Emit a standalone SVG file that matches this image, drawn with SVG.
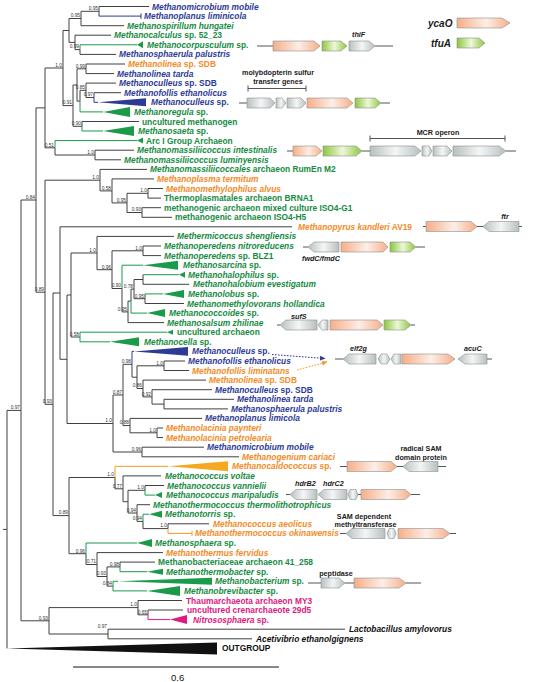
<svg xmlns="http://www.w3.org/2000/svg" width="538" height="682" viewBox="0 0 538 682">
<defs>
<style>
.t{font-family:"Liberation Sans",Arial,Helvetica,sans-serif;font-size:8.4px;font-weight:700;font-style:italic}
.n{font-style:normal}
.bl{fill:#2d3b96}.gr{fill:#168c43}.or{fill:#f28c28}.mg{fill:#e0187f}.bk{fill:#111}
.b{font-family:"Liberation Sans",Arial,sans-serif;font-size:4.8px;fill:#333;text-anchor:end}
.e{fill:none;stroke:#404040;stroke-width:1}
.eg{fill:none;stroke:#1b9a4a;stroke-width:1}
.eb{fill:none;stroke:#2d3b96;stroke-width:1}
.eo{fill:none;stroke:#f39a2a;stroke-width:1}
.em{fill:none;stroke:#e0187f;stroke-width:1}
.tg{fill:#1b9a4a}.tb{fill:#2d3b96}.to{fill:#f7a823}.tm{fill:#e0187f}.tk{fill:#111}
.gl{fill:none;stroke:#555;stroke-width:1}
.ga,.gp,.gg{stroke:#8b9090;stroke-width:.6}
.ga{fill:url(#ga)}.gp{fill:url(#gp)}.gg{fill:url(#gg)}
.gt{font-family:"Liberation Sans",Arial,sans-serif;font-size:7.2px;font-weight:700;fill:#1a1a1a}
.gi{font-style:italic}
.lg{font-family:"Liberation Sans",Arial,sans-serif;font-size:10px;font-weight:700;font-style:italic;fill:#1a1a1a}
</style>
<linearGradient id="gp" x1="0" x2="1" y1="0" y2="0"><stop offset="0" stop-color="#f6ae88"/><stop offset=".55" stop-color="#fdeee6"/><stop offset="1" stop-color="#f6ae88"/></linearGradient>
<linearGradient id="gg" x1="0" x2="1" y1="0" y2="0"><stop offset="0" stop-color="#8cc63f"/><stop offset=".5" stop-color="#eef7d9"/><stop offset="1" stop-color="#8cc63f"/></linearGradient>
<linearGradient id="ga" x1="0" x2="1" y1="0" y2="0"><stop offset="0" stop-color="#b8bfbf"/><stop offset=".5" stop-color="#f4f6f6"/><stop offset="1" stop-color="#b8bfbf"/></linearGradient>
<marker id="mb" markerWidth="6" markerHeight="6" refX="5" refY="3" orient="auto" markerUnits="userSpaceOnUse"><path d="M0,0.5 L5.5,3 L0,5.5 z" fill="#2d3b96"/></marker>
<marker id="mo" markerWidth="6" markerHeight="6" refX="5" refY="3" orient="auto" markerUnits="userSpaceOnUse"><path d="M0,0.5 L5.5,3 L0,5.5 z" fill="#f39a2a"/></marker>
</defs>
<rect width="538" height="682" fill="#fff"/>

<g id="connectors">
<path class="e" d="M3 529.4H7 M7 410.4V648.4 M7 410.4H21
M21 200V620.8 M21 200H36 M21 620.8H49
M36 107.9V292.2 M36 107.9H45 M36 292.2H45
M45 68V147.8 M45 68H63 M45 147.8H55
M63 30.5V105.6 M63 30.5H69 M63 105.6H73
M69 18.5V42.4 M69 18.5H81 M69 42.4H75
M81 11.3V25.7 M81 11.3H99 M81 25.7H124
M99 6.5V16.1 M99 6.5H149
M75 35.2V49.6 M75 35.2H111 M75 49.6H80
M80 49.6V54.4H116
M73 85V126.3 M73 85H77 M73 126.3H82
M77 68.8V101.1 M77 68.8H86 M77 101.1H80
M86 64V73.6 M86 64H125 M86 73.6H114
M80 90.3V101.1 M80 90.3H86
M86 83.1V97.5 M86 83.1H116 M86 97.5H94
M94 92.7V97.5 M94 92.7H121
M82 121.5V126.3 M82 121.5H139
M55 147.8V155H95
M95 150.2V159.8 M95 150.2H134 M95 159.8H121
M45 180.2V404.3 M45 180.2H100 M45 404.3H53
M100 169.4V190.9 M100 169.4H147 M100 190.9H112
M112 178.9V202.9 M112 178.9H154 M112 202.9H127
M127 193.3V212.5 M127 193.3H148 M127 212.5H142
M148 188.5V198.1 M148 188.5H163 M148 198.1H161
M142 207.7V217.3 M142 207.7H161 M142 217.3H172
M53 293V515.6 M53 293H60 M53 515.6H69
M60 226.8V359.3 M60 226.8H292 M60 359.3H67
M67 295V423.5 M67 295H71 M67 423.5H113
M71 253V337 M71 253H97 M71 337H80
M97 236.4V269.7 M97 236.4H174 M97 269.7H112
M112 250.8V288.5 M112 250.8H143 M112 288.5H122
M143 246V255.6 M143 246H161 M143 255.6H161
M122 288.5V311.9H128
M128 301.1V322.6 M128 301.1H131 M128 322.6H164
M131 289.1V301.1 M131 289.1H134
M134 279.5V298.7 M134 279.5H143 M134 298.7H145
M143 274.7V284.3 M143 284.3H189
M145 293.9V303.5 M145 303.5H184
M113 395V452 M113 395H123 M113 452H142
M123 364.3V425.6 M123 364.3H132 M123 425.6H130
M132 364.3V377.2H137
M137 365.8V388.5 M137 365.8H164 M137 388.5H143
M164 361V370.5 M164 361H185 M164 370.5H189
M143 380.1V396.9 M143 380.1H206 M143 396.9H152
M152 389.7V404.1 M152 389.7H212 M152 404.1H164
M164 399.3V408.9 M164 399.3H234 M164 408.9H228
M130 418.4V432.8 M130 418.4H202 M130 432.8H157
M157 428V437.6 M157 428H163 M157 437.6H163
M142 447.2V456.8 M142 447.2H204 M142 456.8H239
M69 477.5V553.7 M69 477.5H115 M69 553.7H86
M115 477.5V488.8H123
M123 475.9V501.7 M123 475.9H161 M123 501.7H128
M128 490.3V513 M128 490.3H145 M128 513H137
M145 485.5V490.3 M145 485.5H164
M137 504.7V521.4 M137 504.7H150 M137 521.4H143
M143 521.4V528.6H168
M168 523.8V528.6 M168 523.8H209
M86 553.7V564.5H97
M97 552.6V576.5 M97 552.6H163 M97 576.5H107
M107 566.9V586.1 M107 566.9H120 M107 586.1H113
M120 562.1V566.9 M120 562.1H155
M49 607.6V634 M49 607.6H138 M49 634H108
M138 600.5V614.8 M138 600.5H182 M138 614.8H148
M148 610V614.8 M148 610H183
M108 629.2V638.8 M108 629.2H345 M108 638.8H252"/>
<path class="eg" d="M80 49.6V44.8H137 M80 101.1V111.9H103 M82 126.3V131H103 M55 147.8V140.6H137
M122 288.5V265.2H143 M143 274.7H179 M131 301.1V313.1H147 M145 293.9H163
M80 332.2V341.8 M80 332.2H167 M80 341.8H110
M145 490.3V495.1H155 M143 521.4V514.2H149 M86 553.7V543H137 M120 566.9V571.7H147
M113 581.3V590.9 M113 581.3H118 M113 590.9H147"/>
<path class="eb" d="M99 16.1H141 M141 13.4V18.8 M94 97.5V102.3H98 M132 364.3V351.4H134"/>
<path class="eo" d="M115 477.5V466.3H168 M168 528.6V533.4H192 M192 530.9V535.9"/>
<path class="em" d="M148 614.8V619.6H170"/>
<path d="M272 354.5L325 358.5" fill="none" stroke="#2d3b96" stroke-width="1" stroke-dasharray="1.6 1.4" marker-end="url(#mb)"/>
<path d="M297 370L327 362" fill="none" stroke="#f39a2a" stroke-width="1" stroke-dasharray="1.6 1.4" marker-end="url(#mo)"/>
</g>

<g id="support">
<text class="b" x="98" y="10.1">0.95</text>
<text class="b" x="80" y="17.3">0.95</text>
<text class="b" x="79" y="48.4">0.99</text>
<text class="b" x="85" y="67.6">0.99</text>
<text class="b" x="85" y="89.1">0.85</text>
<text class="b" x="93" y="96.3">0.97</text>
<text class="b" x="72" y="104.4">0.91</text>
<text class="b" x="81" y="125.1">0.90</text>
<text class="b" x="62" y="66.8">1.0</text>
<text class="b" x="54" y="146.6">0.51</text>
<text class="b" x="94" y="153.8">1.0</text>
<text class="b" x="99" y="179">1.0</text>
<text class="b" x="111" y="189.7">0.58</text>
<text class="b" x="126" y="201.7">0.95</text>
<text class="b" x="147" y="192.1">1.0</text>
<text class="b" x="141" y="211.3">0.93</text>
<text class="b" x="35" y="198.8">0.84</text>
<text class="b" x="44" y="291">0.89</text>
<text class="b" x="52" y="403.1">0.93</text>
<text class="b" x="96" y="251.8">1.0</text>
<text class="b" x="142" y="249.6">1.0</text>
<text class="b" x="111" y="268.5">0.96</text>
<text class="b" x="121" y="287.3">0.90</text>
<text class="b" x="133" y="287.9">0.78</text>
<text class="b" x="144" y="297.5">0.95</text>
<text class="b" x="127" y="310.7">0.95</text>
<text class="b" x="79" y="335.8">0.58</text>
<text class="b" x="131" y="363.1">0.98</text>
<text class="b" x="163" y="364.6">1.0</text>
<text class="b" x="142" y="387.3">0.86</text>
<text class="b" x="151" y="395.7">0.92</text>
<text class="b" x="122" y="393.8">0.87</text>
<text class="b" x="129" y="424.4">0.88</text>
<text class="b" x="156" y="431.6">1.0</text>
<text class="b" x="141" y="450.8">0.96</text>
<text class="b" x="112" y="422.3">1.0</text>
<text class="b" x="114" y="476.3">1.0</text>
<text class="b" x="122" y="487.6">0.77</text>
<text class="b" x="144" y="489.1">1.0</text>
<text class="b" x="136" y="511.8">0.94</text>
<text class="b" x="142" y="520.2">0.94</text>
<text class="b" x="167" y="527.4">1.0</text>
<text class="b" x="68" y="514.4">0.89</text>
<text class="b" x="85" y="552.5">0.96</text>
<text class="b" x="96" y="563.3">0.71</text>
<text class="b" x="106" y="575.3">0.93</text>
<text class="b" x="119" y="565.7">0.98</text>
<text class="b" x="112" y="584.9">0.84</text>
<text class="b" x="137" y="606.4">1.0</text>
<text class="b" x="147" y="613.6">0.65</text>
<text class="b" x="107" y="628">0.97</text>
<text class="b" x="48" y="619.6">0.93</text>
<text class="b" x="20" y="409.2">0.97</text>
</g>

<g id="n00"><text class="t bl" x="152" y="9.5">Methanomicrobium mobile</text></g>
<g id="n01"><text class="t bl" x="144" y="19.1">Methanoplanus liminicola</text></g>
<g id="n02"><text class="t gr" x="127" y="28.7">Methanospirillum hungatei</text></g>
<g id="n03"><text class="t gr" x="114" y="38.2">Methanocalculus<tspan class="n"> sp. 52_23</tspan></text></g>
<g id="n04"><polygon class="tg" points="137,44.8 143,41.3 143,48.3"/><text class="t gr" x="147" y="47.8">Methanocorpusculum<tspan class="n"> sp.</tspan></text></g>
<g id="n05"><text class="t bl" x="119" y="57.4">Methanosphaerula palustris</text></g>
<g id="n06"><text class="t or" x="128" y="67">Methanolinea<tspan class="n"> sp. SDB</tspan></text></g>
<g id="n07"><text class="t bl" x="117" y="76.6">Methanolinea tarda</text></g>
<g id="n08"><text class="t bl" x="119" y="86.1">Methanoculleus<tspan class="n"> sp. SDB</tspan></text></g>
<g id="n09"><text class="t bl" x="124" y="95.7">Methanofollis ethanolicus</text></g>
<g id="n10"><polygon class="tb" points="98,102.3 146,98.3 146,106.3"/><text class="t bl" x="151" y="105.3">Methanoculleus<tspan class="n"> sp.</tspan></text></g>
<g id="n11"><polygon class="tg" points="103,111.9 130,106.9 130,116.9"/><text class="t gr" x="134" y="114.9">Methanoregula<tspan class="n"> sp.</tspan></text></g>
<g id="n12"><text class="t gr n" x="142" y="124.5">uncultured methanogen</text></g>
<g id="n13"><polygon class="tg" points="103,131 134,126 134,136"/><text class="t gr" x="138" y="134">Methanosaeta<tspan class="n"> sp.</tspan></text></g>
<g id="n14"><polygon class="tg" points="137,140.6 143,137.6 143,143.6"/><text class="t gr n" x="146" y="143.6">Arc I Group Archaeon</text></g>
<g id="n15"><text class="t gr" x="137" y="153.2">Methanomassiliicoccus intestinalis</text></g>
<g id="n16"><text class="t gr" x="124" y="162.8">Methanomassiliicoccus luminyensis</text></g>
<g id="n17"><text class="t gr" x="150" y="172.4">Methanomassiliicoccales<tspan class="n"> archaeon RumEn M2</tspan></text></g>
<g id="n18"><text class="t or" x="157" y="181.9">Methanoplasma termitum</text></g>
<g id="n19"><text class="t or" x="166" y="191.5">Methanomethylophilus alvus</text></g>
<g id="n20"><text class="t gr n" x="164" y="201.1">Thermoplasmatales archaeon BRNA1</text></g>
<g id="n21"><text class="t gr n" x="164" y="210.7">methanogenic archaeon mixed culture ISO4-G1</text></g>
<g id="n22"><text class="t gr n" x="175" y="220.3">methanogenic archaeon ISO4-H5</text></g>
<g id="n23"><text class="t or" x="298" y="229.8">Methanopyrus kandleri<tspan class="n"> AV19</tspan></text></g>
<g id="n24"><text class="t gr" x="177" y="239.4">Methermicoccus shengliensis</text></g>
<g id="n25"><text class="t gr" x="164" y="249">Methanoperedens nitroreducens</text></g>
<g id="n26"><text class="t gr" x="164" y="258.6">Methanoperedens<tspan class="n"> sp. BLZ1</tspan></text></g>
<g id="n27"><polygon class="tg" points="143,265.2 178,260.7 178,269.7"/><text class="t gr" x="183" y="268.2">Methanosarcina<tspan class="n"> sp.</tspan></text></g>
<g id="n28"><polygon class="tg" points="179,274.7 185,271.7 185,277.7"/><text class="t gr" x="188" y="277.7">Methanohalophilus<tspan class="n"> sp.</tspan></text></g>
<g id="n29"><text class="t gr" x="193" y="287.3">Methanohalobium evestigatum</text></g>
<g id="n30"><polygon class="tg" points="163,293.9 184,289.9 184,297.9"/><text class="t gr" x="188" y="296.9">Methanolobus<tspan class="n"> sp.</tspan></text></g>
<g id="n31"><text class="t gr" x="187" y="306.5">Methanomethylovorans hollandica</text></g>
<g id="n32"><polygon class="tg" points="147,313.1 165,309.1 165,317.1"/><text class="t gr" x="169" y="316.1">Methanococcoides<tspan class="n"> sp.</tspan></text></g>
<g id="n33"><text class="t gr" x="167" y="325.6">Methanosalsum zhilinae</text></g>
<g id="n34"><polygon class="tg" points="167,332.2 173,329.7 173,334.7"/><text class="t gr n" x="177" y="335.2">uncultured archaeon</text></g>
<g id="n35"><polygon class="tg" points="110,341.8 139,337.3 139,346.3"/><text class="t gr" x="144" y="344.8">Methanocella<tspan class="n"> sp.</tspan></text></g>
<g id="n36"><polygon class="tb" points="134,351.4 188,347 188,355.8"/><text class="t bl" x="192" y="354.4">Methanoculleus<tspan class="n"> sp.</tspan></text></g>
<g id="n37"><text class="t bl" x="188" y="364">Methanofollis ethanolicus</text></g>
<g id="n38"><text class="t or" x="192" y="373.5">Methanofollis liminatans</text></g>
<g id="n39"><text class="t or" x="209" y="383.1">Methanolinea<tspan class="n"> sp. SDB</tspan></text></g>
<g id="n40"><text class="t bl" x="215" y="392.7">Methanoculleus<tspan class="n"> sp. SDB</tspan></text></g>
<g id="n41"><text class="t bl" x="237" y="402.3">Methanolinea tarda</text></g>
<g id="n42"><text class="t bl" x="231" y="411.9">Methanosphaerula palustris</text></g>
<g id="n43"><text class="t bl" x="205" y="421.4">Methanoplanus limicola</text></g>
<g id="n44"><text class="t or" x="166" y="431">Methanolacinia paynteri</text></g>
<g id="n45"><text class="t or" x="166" y="440.6">Methanolacinia petrolearia</text></g>
<g id="n46"><text class="t bl" x="207" y="450.2">Methanomicrobium mobile</text></g>
<g id="n47"><text class="t or" x="242" y="459.8">Methanogenium cariaci</text></g>
<g id="n48"><polygon class="to" points="168,466.3 228,461.3 228,471.3"/><text class="t or" x="232" y="469.3">Methanocaldococcus<tspan class="n"> sp.</tspan></text></g>
<g id="n49"><text class="t gr" x="165" y="478.9">Methanococcus voltae</text></g>
<g id="n50"><text class="t gr" x="167" y="488.5">Methanococcus vannielii</text></g>
<g id="n51"><polygon class="tg" points="155,495.1 162,492.1 162,498.1"/><text class="t gr" x="166" y="498.1">Methanococcus maripaludis</text></g>
<g id="n52"><text class="t gr" x="153" y="507.7">Methanothermococcus thermolithotrophicus</text></g>
<g id="n53"><polygon class="tg" points="149,514.2 162,510.7 162,517.7"/><text class="t gr" x="165" y="517.2">Methanotorris<tspan class="n"> sp.</tspan></text></g>
<g id="n54"><text class="t or" x="213" y="526.8">Methanococcus aeolicus</text></g>
<g id="n55"><text class="t or" x="195" y="536.4">Methanothermococcus okinawensis</text></g>
<g id="n56"><polygon class="tg" points="137,543 152,539 152,547"/><text class="t gr" x="155" y="546">Methanosphaera<tspan class="n"> sp.</tspan></text></g>
<g id="n57"><text class="t or" x="166" y="555.6">Methanothermus fervidus</text></g>
<g id="n58"><text class="t gr n" x="158" y="565.1">Methanobacteriaceae archaeon 41_258</text></g>
<g id="n59"><polygon class="tg" points="147,571.7 163,568.7 163,574.7"/><text class="t gr" x="166" y="574.7">Methanothermobacter<tspan class="n"> sp.</tspan></text></g>
<g id="n60"><polygon class="tg" points="118,581.3 212,577.8 212,584.8"/><text class="t gr" x="215" y="584.3">Methanobacterium<tspan class="n"> sp.</tspan></text></g>
<g id="n61"><polygon class="tg" points="147,590.9 180,585.9 180,595.9"/><text class="t gr" x="184" y="593.9">Methanobrevibacter<tspan class="n"> sp.</tspan></text></g>
<g id="n62"><text class="t mg n" x="186" y="603.5">Thaumarchaeota archaeon MY3</text></g>
<g id="n63"><text class="t mg n" x="187" y="613">uncultured crenarchaeote 29d5</text></g>
<g id="n64"><polygon class="tm" points="170,619.6 187,615.1 187,624.1"/><text class="t mg" x="193" y="622.6">Nitrososphaera<tspan class="n"> sp.</tspan></text></g>
<g id="n65"><text class="t bk" x="349" y="632.2">Lactobacillus amylovorus</text></g>
<g id="n66"><text class="t bk" x="256" y="641.8">Acetivibrio ethanolgignens</text></g>
<g id="n67"><polygon class="tk" points="7,648.4 217,642.4 217,654.4"/><text class="t bk n" x="222" y="651.4">OUTGROUP</text></g>

<g id="legend">
<text class="lg" x="428" y="26.5">ycaO</text>
<polygon class="gp" points="457,18 502,18 510,23 502,28 457,28"/>
<text class="lg" x="431" y="46.5">tfuA</text>
<polygon class="gg" points="457,38 479,38 485,43 479,48 457,48"/>
</g>

<g id="gc1">
<path class="gl" d="M257 46H273 M375 46H393"/>
<polygon class="gp" points="273,41 314,41 320,46 314,51 273,51"/>
<polygon class="gg" points="322,41 341,41 347,46 341,51 322,51"/>
<polygon class="ga" points="349,41 369,41 375,46 369,51 349,51"/>
<text class="gt gi" x="352" y="36.5">thiF</text>
</g>

<g id="gc2">
<text class="gt" x="278" y="75" text-anchor="middle">molybdopterin sulfur</text>
<text class="gt" x="278" y="84" text-anchor="middle">transfer genes</text>
<path class="gl" d="M248 88.5H306 M248 85.5V91.5 M306 85.5V91.5"/>
<path class="gl" d="M239 103H247 M381 103H390"/>
<polygon class="ga" points="247,98 270,98 275,103 270,108 247,108"/>
<polygon class="ga" points="276,98 282,98 286,103 282,108 276,108"/>
<polygon class="ga" points="287,98 301,98 306,103 301,108 287,108"/>
<polygon class="gp" points="307,98 347,98 353,103 347,108 307,108"/>
<polygon class="gg" points="355,98 375,98 381,103 375,108 355,108"/>
</g>

<g id="gc3">
<text class="gt" x="438" y="135" text-anchor="middle">MCR operon</text>
<path class="gl" d="M370 138.5H505 M370 135.5V141.5 M505 135.5V141.5"/>
<path class="gl" d="M287 151H293 M362 151H370 M506 151H516"/>
<polygon class="gp" points="293,146 316,146 322,151 316,156 293,156"/>
<polygon class="gg" points="323,146 356,146 362,151 356,156 323,156"/>
<polygon class="ga" points="370,146 415,146 421,151 415,156 370,156"/>
<polygon class="ga" points="422,146 429,146 432,151 429,156 422,156"/>
<polygon class="ga" points="433,146 447,146 452,151 447,156 433,156"/>
<polygon class="ga" points="453,146 499,146 506,151 499,156 453,156"/>
</g>

<g id="gc4">
<text class="gt gi" x="505" y="218.5" text-anchor="middle">ftr</text>
<path class="gl" d="M423 226.5H426 M477 226.5H483 M519 226.5H522"/>
<polygon class="gp" points="426,221.5 471,221.5 477,226.5 471,231.5 426,231.5"/>
<polygon class="ga" points="483,226.5 489,221.5 519,221.5 519,231.5 489,231.5"/>
</g>

<g id="gc5">
<text class="gt gi" x="302" y="261">fwdC/fmdC</text>
<path class="gl" d="M303 247H308 M416 247H425"/>
<polygon class="ga" points="308,247 314,242 339,242 339,252 314,252"/>
<polygon class="gp" points="341,242 383,242 388,247 383,252 341,252"/>
<polygon class="gg" points="390,242 410,242 416,247 410,252 390,252"/>
</g>

<g id="gc6">
<text class="gt gi" x="291" y="319">sufS</text>
<path class="gl" d="M277 325H280 M411 325H415"/>
<polygon class="ga" points="280,325 286,320 317,320 317,330 286,330"/>
<polygon class="ga" points="318,325 322,320 328,320 328,330 322,330"/>
<polygon class="gp" points="330,320 377,320 383,325 377,330 330,330"/>
<polygon class="gg" points="384,320 405,320 411,325 405,330 384,330"/>
</g>

<g id="gc7">
<text class="gt gi" x="350" y="351">elf2g</text>
<text class="gt gi" x="464" y="351">acuC</text>
<path class="gl" d="M335 359H343 M487 359H492"/>
<polygon class="ga" points="343,359 349,354 376,354 376,364 349,364"/>
<polygon class="ga" points="378,359 381,354 387,354 390,359 387,364 381,364"/>
<polygon class="ga" points="391,359 394,354 401,354 401,364 394,364"/>
<polygon class="gp" points="402,354 448,354 455,359 448,364 402,364"/>
<polygon class="ga" points="458,359 465,354 487,354 487,364 465,364"/>
</g>

<g id="gc8">
<text class="gt" x="421" y="451" text-anchor="middle">radical SAM</text>
<text class="gt" x="421" y="460" text-anchor="middle">domain protein</text>
<path class="gl" d="M340 466.5H347 M397 466.5H403 M438 466.5H446"/>
<polygon class="gp" points="347,461.5 391,461.5 397,466.5 391,471.5 347,471.5"/>
<polygon class="ga" points="403,466.5 409,461.5 438,461.5 438,471.5 409,471.5"/>
</g>

<g id="gc9">
<text class="gt gi" x="295" y="486">hdrB2</text>
<text class="gt gi" x="323" y="486">hdrC2</text>
<path class="gl" d="M286 494.5H290 M358 494.5H361 M411 494.5H420"/>
<polygon class="ga" points="290,494.5 296,489.5 317,489.5 317,499.5 296,499.5"/>
<polygon class="ga" points="318,494.5 324,489.5 347,489.5 347,499.5 324,499.5"/>
<polygon class="ga" points="348,494.5 350,489.5 356,489.5 358,494.5 356,499.5 350,499.5"/>
<polygon class="gp" points="361,489.5 405,489.5 411,494.5 405,499.5 361,499.5"/>
</g>

<g id="gc10">
<text class="gt" x="364" y="518.5" text-anchor="middle">SAM dependent</text>
<text class="gt" x="365.5" y="527" text-anchor="middle">methyltransferase</text>
<path class="gl" d="M340 533.5H346 M450 533.5H456"/>
<polygon class="ga" points="346,533.5 352,528.5 385,528.5 385,538.5 352,538.5"/>
<polygon class="ga" points="387,533.5 389,528.5 394,528.5 396,533.5 394,538.5 389,538.5"/>
<polygon class="gp" points="398,528.5 443,528.5 450,533.5 443,538.5 398,538.5"/>
</g>

<g id="gc11">
<text class="gt" x="336" y="576" text-anchor="middle">peptidase</text>
<path class="gl" d="M308 583H321 M345 583H354 M406 583H421"/>
<polygon class="ga" points="321,578 339,578 345,583 339,588 321,588"/>
<polygon class="gp" points="354,578 399,578 406,583 399,588 354,588"/>
</g>

<g id="scale">
<path d="M73 667H279" stroke="#111" stroke-width="1"/>
<text x="171" y="681" font-family="Liberation Sans, Arial, sans-serif" font-size="9.5" fill="#111">0.6</text>
</g>
</svg>
